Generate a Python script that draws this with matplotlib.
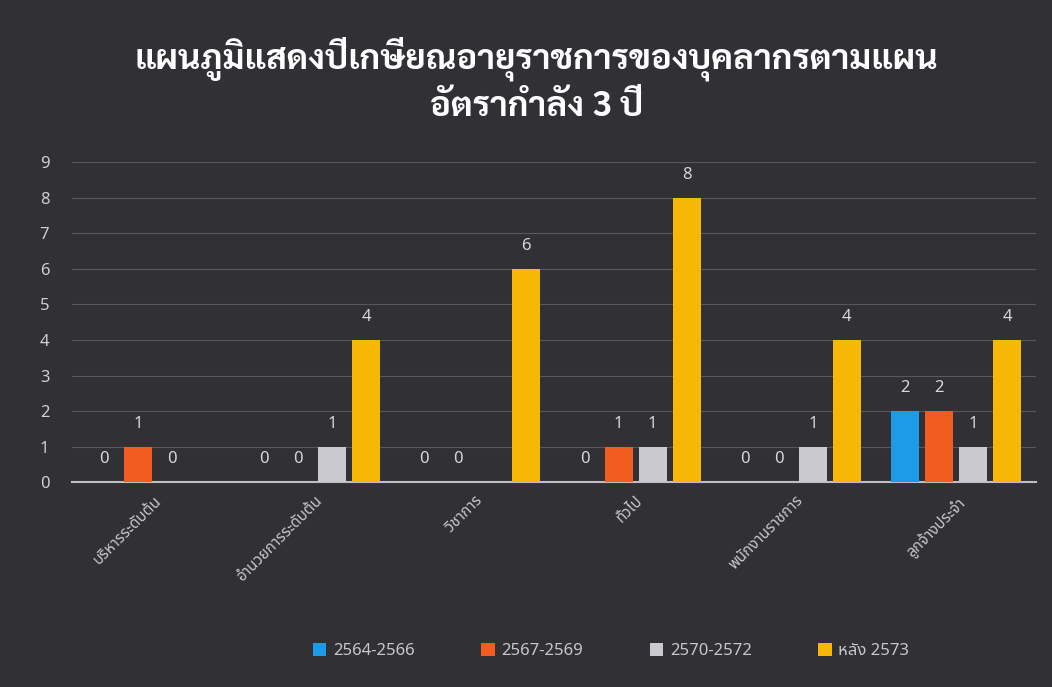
import numpy as np
import matplotlib
matplotlib.use("Agg")
import matplotlib.pyplot as plt

categories = ["บริหารระดับต้น", "อำนวยการระดับต้น", "วิชาการ", "ทั่วไป",
              "พนักงานราชการ", "ลูกจ้างประจำ"]
series_names = ["2564-2566", "2567-2569", "2570-2572", "หลัง 2573"]
s2564 = [0, 0, 0, 0, 0, 2]
s2567 = [1, 0, 0, 1, 0, 2]
s2570 = [0, 1, np.nan, 1, 1, 1]
s2573 = [np.nan, 4, 6, 8, 4, 4]
yticks = list(range(0, 10))

colors = ["#1d9be8", "#f25c1f", "#c9c9cf", "#f6b805"]

plt.rcParams['font.family'] = ['Noto Sans Thai', 'DejaVu Sans']

bg = "#303035"
fig = plt.figure(figsize=(10.52, 6.87), dpi=100, facecolor=bg)
ax = fig.add_axes([0.068, 0.298, 0.917, 0.466], facecolor=bg)

data = [s2564, s2567, s2570, s2573]
x = np.arange(len(categories))
step = 0.212
width = 0.175
for i, vals in enumerate(data):
    pos = x + (i - 1.5) * step
    v = np.array(vals, dtype=float)
    ax.bar(pos, np.nan_to_num(v), width=width, color=colors[i], zorder=3,
           label=series_names[i])
    for p, val in zip(pos, v):
        if np.isnan(val):
            continue
        ax.text(p, val + 0.42, "%d" % val, ha='center', va='bottom',
                color='#d8d8d8', fontsize=12, zorder=4)

ax.set_ylim(0, 9)
ax.set_xlim(-0.52, 5.5)
ax.set_yticks(yticks)
ax.grid(axis='y', color='#57575e', linewidth=0.8, zorder=0)
ax.set_axisbelow(True)
for s in ['top', 'right', 'left']:
    ax.spines[s].set_visible(False)
ax.spines['bottom'].set_color('#bdbdc2')
ax.spines['bottom'].set_linewidth(1.5)
ax.tick_params(axis='y', length=0, colors='#d0d0d0', labelsize=12, pad=16)
ax.tick_params(axis='x', length=0, colors='#c8c8c8', labelsize=11, pad=8)
ax.set_xticks(x)
ax.set_xticklabels(categories, rotation=45, ha='right', rotation_mode='anchor')

title_font = ['Sarabun', 'Noto Sans Thai', 'DejaVu Sans']
fig.text(0.51, 0.915, "แผนภูมิแสดงปีเกษียณอายุราชการของบุคลากรตามแผน",
         ha='center', va='center', color='white', fontsize=25,
         fontweight='bold', family=title_font)
fig.text(0.51, 0.845, "อัตรากำลัง 3 ปี", ha='center', va='center',
         color='white', fontsize=25, fontweight='bold', family=title_font)

leg = fig.legend(loc='center', bbox_to_anchor=(0.581, 0.052), ncol=4,
                 frameon=False, fontsize=12, handlelength=0.8, handleheight=0.8,
                 columnspacing=4.0, handletextpad=0.4)
for t in leg.get_texts():
    t.set_color('#c8c8c8')

fig.savefig("out.png", dpi=100, facecolor=bg)
